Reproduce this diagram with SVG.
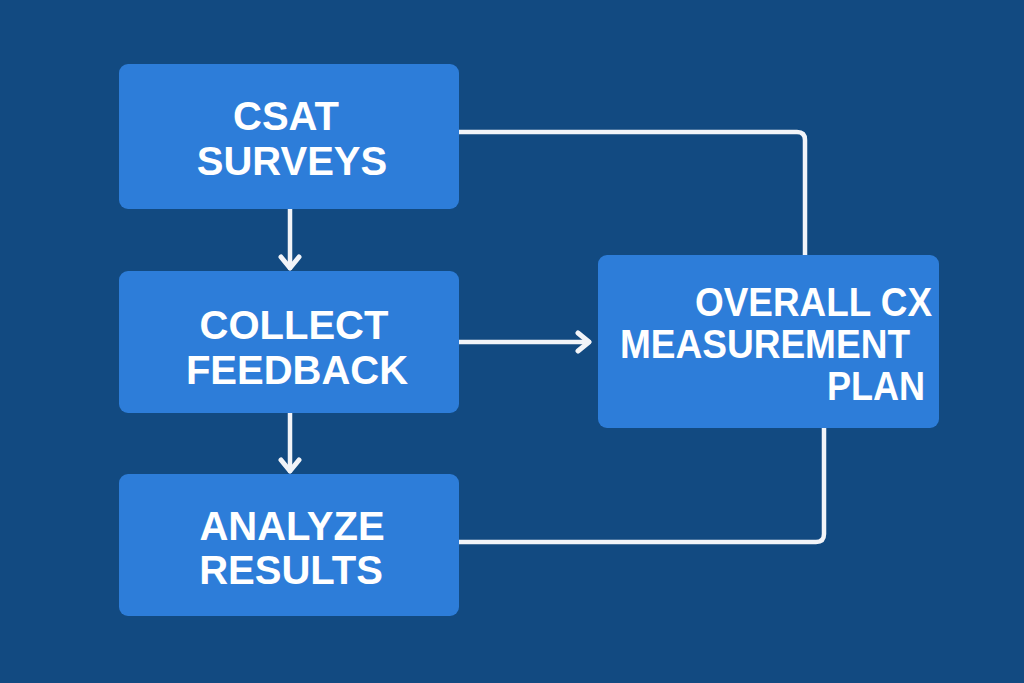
<svg xmlns="http://www.w3.org/2000/svg" width="1024" height="683" viewBox="0 0 1024 683">
<defs>
<style>
.box{fill:#2D7DD9;}
.lbl{font-family:"Liberation Sans",Arial,sans-serif;font-weight:bold;font-size:40px;fill:#FFFFFF;}
.c{text-anchor:middle;}
.ln{fill:none;stroke:#F2F4F8;stroke-width:4.5;stroke-linecap:round;stroke-linejoin:round;}
</style>
<marker id="arr" viewBox="0 0 24 24" refX="19" refY="12" markerWidth="24" markerHeight="24" markerUnits="userSpaceOnUse" orient="auto">
<path d="M8,3 L19,12 L8,21" fill="none" stroke="#F2F4F8" stroke-width="5" stroke-linecap="round" stroke-linejoin="round"/>
</marker>
</defs>
<rect width="1024" height="683" fill="#124A81"/>
<g id="connectors">
<path class="ln" d="M459,132 H797 Q805,132 805,140 V255"/>
<path class="ln" d="M459,542 H816 Q824,542 824,534 V428"/>
<path class="ln" d="M459,342 H589" marker-end="url(#arr)"/>
<path class="ln" d="M290,209 V268" marker-end="url(#arr)"/>
<path class="ln" d="M290,413 V471" marker-end="url(#arr)"/>
</g>
<g id="csat">
<rect class="box" x="119" y="64" width="340" height="145" rx="9"/>
<text class="lbl c" x="286" y="130">CSAT</text>
<text class="lbl c" x="292" y="175">SURVEYS</text>
</g>
<g id="collect">
<rect class="box" x="119" y="271" width="340" height="142" rx="9"/>
<text class="lbl c" x="294" y="339">COLLECT</text>
<text class="lbl c" x="297" y="384">FEEDBACK</text>
</g>
<g id="analyze">
<rect class="box" x="119" y="474" width="340" height="142" rx="9"/>
<text class="lbl c" x="292" y="540">ANALYZE</text>
<text class="lbl c" x="291" y="584">RESULTS</text>
</g>
<g id="overall">
<rect class="box" x="598" y="255" width="341" height="173" rx="9"/>
<text class="lbl" x="695" y="316" textLength="237" lengthAdjust="spacingAndGlyphs">OVERALL CX</text>
<text class="lbl" x="620" y="358" textLength="290" lengthAdjust="spacingAndGlyphs">MEASUREMENT</text>
<text class="lbl" x="827" y="400" textLength="98" lengthAdjust="spacingAndGlyphs">PLAN</text>
</g>
</svg>
